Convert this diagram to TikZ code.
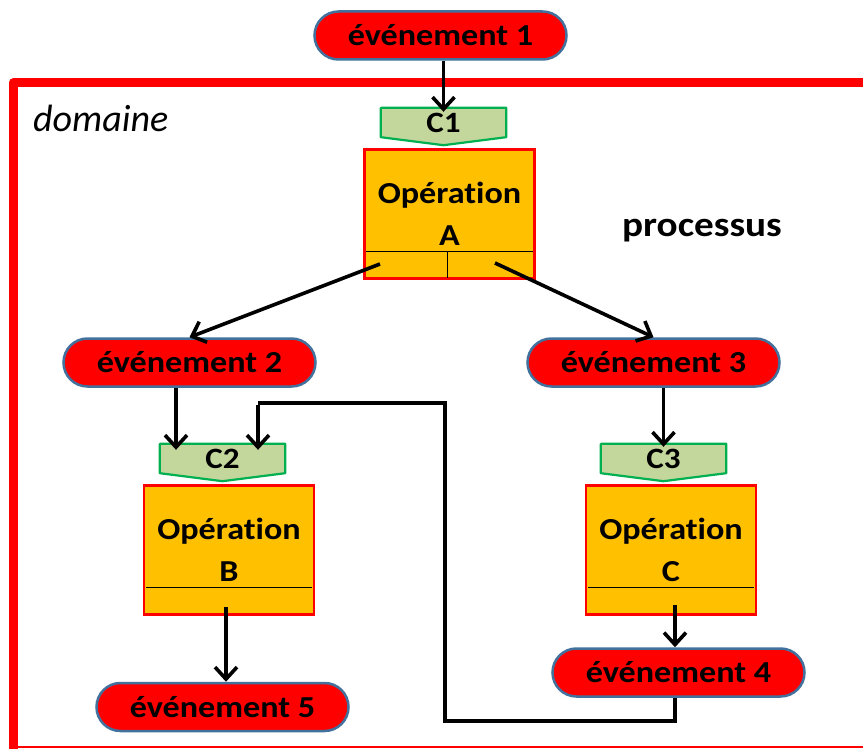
\documentclass[tikz,border=0pt]{standalone}
\usepackage{fontspec}
\setmainfont{Carlito}[FakeStretch=1.12,Ligatures=NoCommon]
\newfontfamily\plainfont{Carlito}[Ligatures=NoCommon]
\usetikzlibrary{arrows.meta,shapes.misc,backgrounds}
\definecolor{evred}{HTML}{FF0000}
\definecolor{evborder}{HTML}{41719C}
\definecolor{opfill}{HTML}{FFC000}
\definecolor{cfill}{HTML}{C3D69B}
\definecolor{cborder}{HTML}{00B050}
\begin{document}
\begin{tikzpicture}[x=1pt,y=-1pt,
  event/.style={rounded rectangle, draw=evborder, line width=2.5pt, fill=evred,
    minimum width=252pt, minimum height=48pt, inner sep=0pt,
    font=\fontsize{30.5}{32}\selectfont\bfseries},
  opbox/.style={draw=red, line width=2.5pt, fill=opfill, minimum width=170pt,
    minimum height=129pt, align=center, inner sep=0pt,
    font=\fontsize{30.5}{42}\selectfont\bfseries},
  cbox/.style={minimum width=125pt, minimum height=29pt, inner sep=0pt,
    font=\fontsize{29.5}{30}\selectfont\bfseries},
  cshape/.style={draw=cborder, line width=2.2pt, fill=cfill, line join=round},
  arr/.style={draw=black, line width=3.6pt, -{Straight Barb[length=12pt,width=22pt,line width=3.6pt]}},
  conn/.style={draw=black, line width=3.6pt},
  sepline/.style={draw=black, line width=1pt},
  frame/.style={draw=red, line width=9pt, line join=round}
]
\useasboundingbox (0,0) rectangle (863,749);
\clip (0,0) rectangle (863,749);

% frame
\draw[frame] (880,83) -- (13,83) -- (13,749);
\draw[red, line width=2pt] (13,747) -- (880,747);

% labels
\node[anchor=base west, inner sep=0pt, font=\plainfont\itshape\fontsize{38}{40}\selectfont] (dom) at (33,132) {domaine};
\node[inner sep=0pt, font=\fontsize{35}{37}\selectfont\bfseries] (proc) at (702,231) {processus};

% nodes
\node[event] (e1) at (440.5,35.5) {événement 1};
\node[cbox] (c1) at (443.5,122.5) {C1};
\node[opbox] (opA) at (449.5,214) {Opération\\A};

\node[event] (e2) at (189.5,362.5) {événement 2};
\node[event] (e3) at (653.5,362.5) {événement 3};

\node[cbox] (c2) at (222.5,458.5) {C2};
\node[cbox] (c3) at (663.5,458.5) {C3};

\node[opbox] (opB) at (229,550) {Opération\\B};
\node[opbox] (opC) at (671,550) {Opération\\C};

\node[event] (e4) at (678.5,672.5) {événement 4};
\node[event] (e5) at (222.5,707) {événement 5};

% condition shapes
\begin{scope}[on background layer]
\foreach \c in {c1,c2,c3}{
  \draw[cshape] (\c.north west) -- (\c.north east) -- (\c.south east)
    -- ([yshift=-8pt]\c.south) -- (\c.south west) -- cycle;
}
\end{scope}

% separator lines inside operations
\foreach \o in {opA,opB,opC}{
  \draw[sepline] ([shift={(3,-28)}]\o.south west) -- ([shift={(-3,-28)}]\o.south east);
}
\draw[sepline] ([shift={(-2.5,-28)}]opA.south) -- ([shift={(-2.5,-2)}]opA.south);

% connectors
\coordinate (aL) at (380,264);
\coordinate (aR) at (495,263);
\draw[arr] (e1.south -| c1.north) -- ([yshift=-4pt]c1.north);
\draw[arr] (aL) -- (e2.north);
\draw[arr] (aR) -- (e3.north);
\draw[arr] ([xshift=-13.5pt]e2.south) -- ([xshift=-46.5pt,yshift=-6pt]c2.north);
\draw[arr] (e3.south -| c3.north) -- ([yshift=-3pt]c3.north);
\coordinate (bS) at (226,607);
\draw[arr] (bS) -- (e5.north -| bS);
\coordinate (cS) at (675,605);
\draw[arr] (cS) -- (e4.north -| cS);
\coordinate (loopA) at (675,721);
\coordinate (loopB) at (445,721);
\coordinate (loopC) at (445,403);
\coordinate (loopD) at (258,403);
\draw[conn] (e4.south -| loopA) -- (loopA) -- (loopB) -- (loopC) -- (loopD);
\draw[arr] ([yshift=-1.8pt]loopD) -- ([xshift=35.5pt,yshift=-6pt]c2.north);
\end{tikzpicture}
\end{document}
